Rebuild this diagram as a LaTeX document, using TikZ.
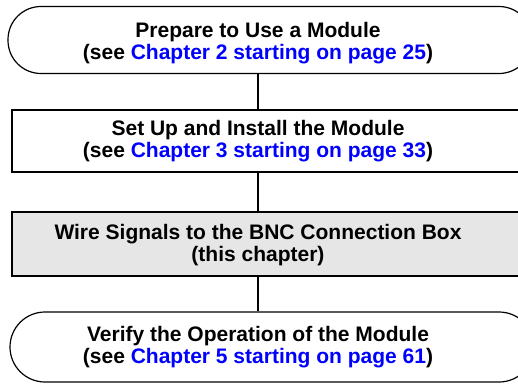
\documentclass[tikz,border=0pt]{standalone}
\usepackage{fontspec}
\setmainfont{Liberation Sans}
\usetikzlibrary{positioning}
\definecolor{enlace}{RGB}{0,0,255}
\definecolor{gris}{RGB}{230,230,230}

\begin{document}
\begin{tikzpicture}[x=1pt, y=-1pt,
  terminal/.style={draw, line width=1.2pt, inner sep=0pt, minimum width=524pt},
  paso/.style={draw, line width=2.6pt, inner sep=0pt, minimum width=520pt},
  texto/.style={align=center, font=\bfseries\fontsize{21}{22.5}\selectfont},
  conector/.style={line width=2pt}]
              \useasboundingbox (0,0) rectangle (518,383);
              % Cajas
              \node[terminal, rounded corners=33pt, minimum height=67pt] (c1) at (270,40) {};
              \node[paso, minimum height=62pt] (c2) at (272,141) {};
              \node[paso, fill=gris, minimum height=64pt] (c3) at (272,244) {};
              \node[terminal, rounded corners=35pt, minimum height=70pt] (c4) at (272,347) {};

              % Textos
              \node[texto] (t1) at (258,43) {Prepare to Use a Module\\(see \textcolor{enlace}{Chapter 2 starting on page 25})};
              \node[texto] (t2) at (258,141) {Set Up and Install the Module\\(see \textcolor{enlace}{Chapter 3 starting on page 33})};
              \node[texto] (t3) at (258,245) {Wire Signals to the BNC Connection Box\\(this chapter)};
              \node[texto] (t4) at (258,347) {Verify the Operation of the Module\\(see \textcolor{enlace}{Chapter 5 starting on page 61})};

              % Conectores
              \draw[conector] (t1 |- c1.south) -- (t1 |- c2.north);
              \draw[conector] (t2 |- c2.south) -- (t2 |- c3.north);
              \draw[conector] (t3 |- c3.south) -- (t3 |- c4.north);
            \end{tikzpicture}
\end{document}
